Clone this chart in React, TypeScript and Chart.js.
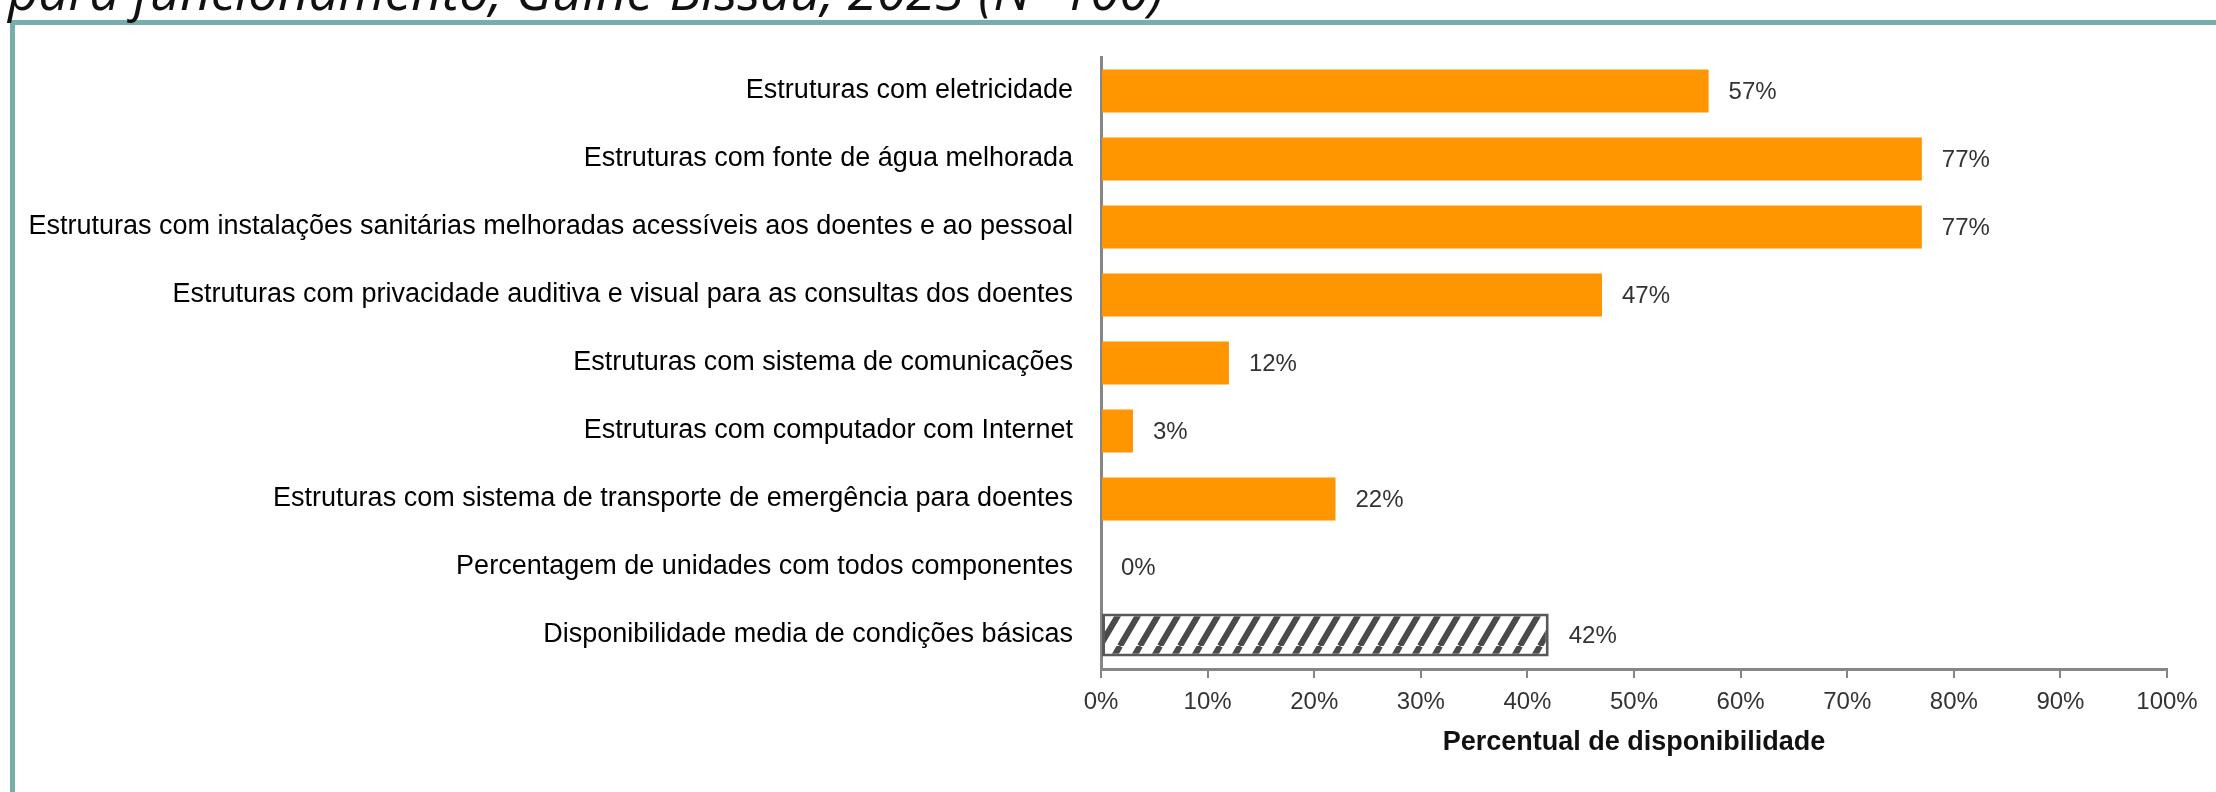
import React, { useEffect, useRef } from "react";
import { Chart, registerables } from "chart.js";

Chart.register(...registerables);

const categories = [
  "Estruturas com eletricidade",
  "Estruturas com fonte de água melhorada",
  "Estruturas com instalações sanitárias melhoradas acessíveis aos doentes e ao pessoal",
  "Estruturas com privacidade auditiva e visual para as consultas dos doentes",
  "Estruturas com sistema de comunicações",
  "Estruturas com computador com Internet",
  "Estruturas com sistema de transporte de emergência para doentes",
  "Percentagem de unidades com todos componentes",
  "Disponibilidade media de condições básicas",
];
const values = [57, 77, 77, 47, 12, 3, 22, 0, 42];
const xTickValues = [0, 10, 20, 30, 40, 50, 60, 70, 80, 90, 100];
const titleText = "para funcionamento, Guiné-Bissau, 2023 (N=100)";
const axisTitle = "Percentual de disponibilidade";

const NARROW = "'Liberation Sans Narrow', 'Arial Narrow', 'Liberation Sans', Arial, sans-serif";

function makeHatch(): CanvasPattern | string {
  const w = 20;
  const h = 34;
  const c = document.createElement("canvas");
  c.width = w;
  c.height = h;
  const g = c.getContext("2d");
  if (!g) return "#888";
  g.fillStyle = "#ffffff";
  g.fillRect(0, 0, w, h);
  g.strokeStyle = "#4a4a4a";
  g.lineWidth = 6;
  g.beginPath();
  for (let k = -1; k <= 1; k++) {
    g.moveTo(k * w, h);
    g.lineTo(k * w + w, 0);
  }
  g.stroke();
  return g.createPattern(c, "repeat") || "#888";
}

export default function App() {
  const ref = useRef<HTMLCanvasElement | null>(null);

  useEffect(() => {
    const canvas = ref.current;
    if (!canvas) return;
    const hatch = makeHatch();
    const n = values.length;
    const bg = values.map((_, i) => (i === n - 1 ? hatch : "#FF9600"));
    const bc = values.map((_, i) => (i === n - 1 ? "#595959" : "rgba(0,0,0,0)"));
    const bw = values.map((_, i) => (i === n - 1 ? 3 : 0));

    const framePlugin = {
      id: "frame",
      beforeDraw(chart: any) {
        const ctx = chart.ctx;
        ctx.save();
        ctx.fillStyle = "#ffffff";
        ctx.fillRect(0, 0, chart.width, chart.height);
        ctx.strokeStyle = "#76AEAB";
        ctx.lineWidth = 5;
        ctx.beginPath();
        ctx.moveTo(12.5, chart.height + 10);
        ctx.lineTo(12.5, 22.5);
        ctx.lineTo(chart.width + 10, 22.5);
        ctx.stroke();
        ctx.fillStyle = "#111111";
        ctx.font = "italic 53px 'Open Sans', sans-serif";
        ctx.textAlign = "left";
        ctx.textBaseline = "alphabetic";
        ctx.fillText(titleText, 8, 10);
        ctx.restore();
      },
    };

    const valuePlugin = {
      id: "valueLabels",
      afterDatasetsDraw(chart: any) {
        const ctx = chart.ctx;
        const meta = chart.getDatasetMeta(0);
        ctx.save();
        ctx.fillStyle = "#333333";
        ctx.font = `24px ${NARROW}`;
        ctx.textAlign = "left";
        ctx.textBaseline = "middle";
        meta.data.forEach((bar: any, i: number) => {
          ctx.fillText(values[i] + "%", bar.x + 20, bar.y + 1);
        });
        ctx.restore();
      },
    };

    const chart = new Chart(canvas, {
      type: "bar",
      data: {
        labels: categories,
        datasets: [
          {
            data: values,
            backgroundColor: bg as any,
            borderColor: bc,
            borderWidth: bw,
            borderSkipped: false,
            barPercentage: 0.63,
            categoryPercentage: 1,
          },
        ],
      },
      options: {
        indexAxis: "y",
        responsive: false,
        animation: false,
        devicePixelRatio: 1,
        layout: { padding: { top: 57, right: 49, left: 0, bottom: 0 } },
        plugins: {
          legend: { display: false },
          tooltip: { enabled: false },
          title: { display: false },
        },
        scales: {
          x: {
            type: "linear",
            min: 0,
            max: 100,
            afterBuildTicks(scale: any) {
              scale.ticks = xTickValues.map((v) => ({ value: v }));
            },
            afterFit(scale: any) {
              scale.height = 123;
            },
            grid: {
              drawOnChartArea: false,
              drawTicks: true,
              tickLength: 9,
              color: "#868686",
              lineWidth: 2,
            },
            border: { display: true, color: "#868686", width: 3 },
            ticks: {
              color: "#333333",
              font: { family: NARROW, size: 24 },
              padding: 10,
              maxRotation: 0,
              callback: (v: any) => v + "%",
            },
            title: {
              display: true,
              text: axisTitle,
              color: "#111111",
              font: { family: NARROW, size: 27, weight: "bold" },
              padding: { top: 0, bottom: 33 },
            },
          },
          y: {
            type: "category",
            afterFit(scale: any) {
              scale.width = 1101;
            },
            grid: { display: false, drawTicks: false },
            border: { display: true, color: "#868686", width: 3 },
            ticks: {
              color: "#000000",
              font: { family: NARROW, size: 27 },
              padding: 28,
              autoSkip: false,
            },
          },
        },
      },
      plugins: [framePlugin, valuePlugin],
    });

    return () => chart.destroy();
  }, []);

  return (
    <div style={{ position: "fixed", left: 0, top: 0, width: 2216, height: 792, background: "#fff" }}>
      <canvas ref={ref} width={2216} height={792} style={{ display: "block", width: 2216, height: 792 }} />
    </div>
  );
}
